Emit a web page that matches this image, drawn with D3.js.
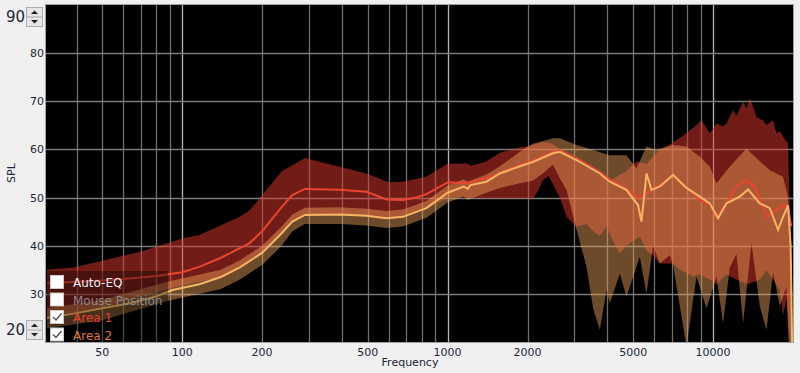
<!DOCTYPE html>
<html>
<head>
<meta charset="utf-8">
<script src="https://cdn.jsdelivr.net/npm/d3@7"></script>
<style>
  body { margin: 0; background: #f0f0f0; }
  svg { display: block; font-family: "DejaVu Sans", sans-serif; }
</style>
</head>
<body>
<svg id="chart" width="800" height="373"></svg>
<script>
// tick labels
var xTicks = [50, 100, 200, 500, 1000, 2000, 5000, 10000];
var yTicks = [30, 40, 50, 60, 70, 80];
var legendItems = ["Auto-EQ", "Mouse Position", "Area 1", "Area 2"];
var legendChecked = [false, false, true, true];

// Area 1 (red) - [Hz, dB]
var area1Mean = [[31,32.2],[40,32.5],[50,32.8],[63,33.2],[80,33.7],[100,34.5],[116,35.6],[140,37.5],[165,39.5],[180,40.6],[200,43],[237,48],[260,50.5],[290,51.8],[392,51.6],[495,51.2],[588,49.6],[679,49.5],[760,50],[832,50.7],[1004,53.2],[1176,53],[1398,54],[1571,55.1],[1871,56.8],[2094,57.6],[2491,59.5],[2647,59.8],[3059,58.2],[3744,55.3],[4082,53.8],[4718,51.8],[5218,50],[5450,50.2],[5861,51.6],[6300,52.6],[7069,54.7],[7940,52],[8912,49.5],[9718,48.5],[10299,46],[11232,48.8],[12247,52.3],[13360,53.6],[14358,52.3],[15427,48.1],[16000,46],[17330,47.4],[18347,48.4],[19160,48],[19700,44]];
var area1Hi = [[31,35],[39,35.5],[69,38.7],[100,41.5],[116,42.2],[165,46],[180,47.4],[237,55.4],[290,58.2],[392,56.4],[495,55],[600,53.2],[680,53.3],[830,54.3],[1000,57],[1180,57.1],[1230,56.6],[1400,57.5],[1573,59.3],[1871,60.4],[2094,60.9],[2284,61.6],[2491,61.2],[2800,59],[3059,57.5],[3532,55.5],[4082,53.5],[4718,55.5],[5147,57.5],[5612,57],[6300,60],[6870,61],[7940,63.3],[8170,64],[8660,65],[9044,66.1],[9443,64.5],[9718,63.3],[10299,65.4],[10906,64.8],[11232,65.4],[11891,68.2],[12247,67],[12972,69.9],[13360,68.5],[13747,70.6],[14358,68],[14571,66.7],[15427,66],[15889,65.1],[16827,66.1],[17330,63.3],[17833,63.8],[18898,61.6],[19160,61.3],[19500,45],[19900,30]];
var area1Lo = [[31,25],[50,27],[88,31],[140,33.5],[165,35.5],[200,38.5],[237,42.6],[260,45],[290,46.4],[392,46.5],[495,46.2],[588,45.7],[679,46],[832,47.8],[1000,50],[1176,50],[1400,49.8],[1871,49.8],[2094,49.8],[2200,51.5],[2284,53.6],[2400,54.5],[2647,50],[2804,46],[3059,44],[3337,44.5],[3532,43],[3744,42],[3967,44],[4201,41],[4453,38.4],[4718,40],[4857,40.5],[5296,41.9],[5612,39],[5943,38],[6300,36.3],[7069,36.3],[7500,35],[8409,33.6],[8912,34],[9718,33],[10299,32],[11232,34],[12247,33],[13546,32],[14993,33],[15889,34.9],[16827,33],[17833,30.8],[18347,25.5],[18898,29],[19500,20],[19900,15]];

// Area 2 (orange) - [Hz, dB]
var area2Mean = [[31,25],[40,26],[50,27],[63,28],[80,29.5],[92,30.8],[116,32],[140,33.5],[165,35.5],[200,38.5],[237,42.6],[260,45],[290,46.4],[392,46.5],[495,46.2],[588,45.7],[679,46],[832,47.8],[1000,51],[1150,52.3],[1190,51.8],[1220,52.6],[1400,53.3],[1573,55],[1871,56.5],[2094,57.4],[2491,59.2],[2647,59.5],[3059,57.8],[3744,55],[4082,53.3],[4718,51.6],[5218,48.4],[5375,45],[5612,55],[5861,51.6],[6300,52.3],[7069,54.7],[7940,52],[8912,50.2],[9718,48.8],[10443,45.7],[11232,48.8],[12605,50.2],[13546,51.7],[14993,48.8],[16353,47.8],[17572,43.3],[18347,46],[19160,48.4],[19600,40],[19900,15]];
var area2Hi = [[31,27],[50,28.8],[88,32.5],[140,35],[165,37],[200,40],[237,44],[260,46.5],[290,47.9],[392,48],[495,47.7],[588,47.2],[679,47.5],[832,49.3],[1000,52.5],[1150,53.8],[1190,53.3],[1400,54.8],[1573,56.5],[1871,59.5],[2094,61.2],[2491,62.3],[2647,62.3],[3059,60.9],[3532,59.9],[4082,58.8],[4718,58.8],[5147,56.1],[5612,60.6],[6121,59.9],[7069,60.9],[7940,60.6],[8912,58.5],[9718,56.4],[10299,53],[11558,56.4],[13360,60.2],[14358,58.5],[16353,55.7],[18347,54.3],[19160,50],[19700,35],[19950,20]];
var area2Lo = [[31,22.8],[50,24.5],[88,28.5],[140,31],[165,33],[200,36],[237,40],[260,43],[290,44.5],[392,44.5],[495,44.2],[588,43.7],[679,44],[832,45.8],[1000,49],[1150,50.2],[1190,49.5],[1400,51],[1573,52],[1871,53],[2094,53.5],[2284,55],[2491,56.8],[2647,54],[2804,51.6],[3059,43.3],[3337,35.6],[3532,27],[3744,22.5],[3967,30.8],[4082,28],[4201,30],[4453,34.2],[4718,29.4],[5296,37.7],[5612,30],[5943,40],[6300,36.3],[6870,38],[7069,36],[7940,19.1],[8660,33.6],[9443,27],[10299,33.6],[10906,23.9],[11558,35.5],[12247,38.3],[12972,23.9],[13951,40.5],[14993,27.5],[15889,22.5],[16827,34.5],[17833,27.5],[18898,31.5],[19400,15]];

var svg = d3.select("#chart");
var plotL = 46, plotR = 793, plotT = 5, plotB = 342;

var x = d3.scaleLog().domain([30.7, 20000]).range([plotL, plotR]);
var y = d3.scaleLinear().domain([20, 90]).range([plotB, plotT]);

svg.append("defs").append("clipPath").attr("id", "plotClip")
	.append("rect").attr("x", plotL).attr("y", plotT).attr("width", plotR - plotL).attr("height", plotB - plotT);

// plot background
svg.append("rect").attr("x", plotL).attr("y", plotT).attr("width", plotR - plotL).attr("height", plotB - plotT)
	.attr("fill", "#000");

// grid - vertical lines every 1-2-3..9 of each decade
var gridFreqs = [];
[10, 100, 1000, 10000].forEach(function(d) {
	for (var k = 1; k < 10; k++) {
		var f = d * k;
		if (f > 31 && f < 20000) gridFreqs.push(f);
	}
});
var grid = svg.append("g").attr("clip-path", "url(#plotClip)");
grid.selectAll("line.v").data(gridFreqs).enter().append("line")
	.attr("x1", function(d) { return Math.round(x(d)) + 0.5; })
	.attr("x2", function(d) { return Math.round(x(d)) + 0.5; })
	.attr("y1", plotT).attr("y2", plotB)
	.attr("stroke", function(d) { return [100, 1000, 10000].indexOf(d) >= 0 ? "#b4b4b4" : "#6e6e6e"; })
	.attr("stroke-width", 1.3);
grid.selectAll("line.h").data(yTicks).enter().append("line")
	.attr("x1", plotL).attr("x2", plotR)
	.attr("y1", function(d) { return Math.round(y(d)) + 0.5; })
	.attr("y2", function(d) { return Math.round(y(d)) + 0.5; })
	.attr("stroke", "#7a7a7a").attr("stroke-width", 1.3);

// bands and lines
var line = d3.line().x(function(d) { return x(d[0]); }).y(function(d) { return y(d[1]); });
function band(hi, lo) {
	return line(hi.concat(lo.slice().reverse())) + "Z";
}
var plot = svg.append("g").attr("clip-path", "url(#plotClip)");
plot.append("path").attr("d", band(area1Hi, area1Lo)).attr("fill", "rgb(225,55,45)").attr("fill-opacity", 0.5);
plot.append("path").attr("d", band(area2Hi, area2Lo)).attr("fill", "rgb(242,165,90)").attr("fill-opacity", 0.45);
plot.append("path").attr("d", line(area1Mean)).attr("fill", "none").attr("stroke", "#ea4530").attr("stroke-width", 2);
plot.append("path").attr("d", line(area2Mean)).attr("fill", "none").attr("stroke", "#f6b565").attr("stroke-width", 2);

// plot border
svg.append("rect").attr("x", plotL - 0.5).attr("y", plotT - 0.5).attr("width", plotR - plotL + 1).attr("height", plotB - plotT + 1)
	.attr("fill", "none").attr("stroke", "#a0a0a0");

// x axis labels
svg.append("g").selectAll("text").data(xTicks).enter().append("text")
	.attr("x", function(d) { return x(d); }).attr("y", 356)
	.attr("text-anchor", "middle").attr("font-size", 11).attr("fill", "#1c2638")
	.text(function(d) { return d; });
svg.append("text").attr("x", 410).attr("y", 366).attr("text-anchor", "middle")
	.attr("font-size", 11).attr("fill", "#1c2638").text("Frequency");

// y axis labels
svg.append("g").selectAll("text").data(yTicks).enter().append("text")
	.attr("x", 44).attr("y", function(d) { return y(d) + 4; })
	.attr("text-anchor", "end").attr("font-size", 11).attr("fill", "#1c2638")
	.text(function(d) { return d; });
svg.append("text").attr("transform", "translate(15,173) rotate(-90)").attr("text-anchor", "middle")
	.attr("font-size", 11).attr("fill", "#1c2638").text("SPL");

// min/max spinners
function spinner(value, yTop) {
	var g = svg.append("g");
	g.append("text").attr("x", 25).attr("y", yTop + 15).attr("text-anchor", "end")
		.attr("font-size", 15).attr("fill", "#1c2638").text(value);
	g.append("rect").attr("x", 26.5).attr("y", yTop + 0.5).attr("width", 16).attr("height", 19)
		.attr("fill", "#e6e6e6").attr("stroke", "#adadad");
	g.append("line").attr("x1", 27).attr("x2", 42).attr("y1", yTop + 10).attr("y2", yTop + 10).attr("stroke", "#adadad");
	g.append("path").attr("d", "M31," + (yTop + 7) + "L38," + (yTop + 7) + "L34.5," + (yTop + 3.5) + "Z").attr("fill", "#222");
	g.append("path").attr("d", "M31," + (yTop + 13) + "L38," + (yTop + 13) + "L34.5," + (yTop + 16.5) + "Z").attr("fill", "#222");
}
spinner(90, 7);
spinner(20, 320);

// legend
var legend = svg.append("g");
legend.append("rect").attr("x", 47).attr("y", 271).attr("width", 121).attr("height", 71)
	.attr("fill", "#000").attr("fill-opacity", 0.35);
var legendColors = ["#eef0f6", "#8a8a8a", "#e8402e", "#e07a30"];
legendItems.forEach(function(name, i) {
	var cy = 282 + i * 17.5;
	legend.append("rect").attr("x", 50.5).attr("y", cy - 6.5).attr("width", 13).attr("height", 13)
		.attr("fill", "#fff").attr("stroke", "#c8c8c8");
	if (legendChecked[i]) {
		legend.append("path").attr("d", "M53," + (cy + 0) + "L56," + (cy + 3) + "L61.5," + (cy - 3.5))
			.attr("fill", "none").attr("stroke", "#555").attr("stroke-width", 1.5);
	}
	legend.append("text").attr("x", 73).attr("y", cy + 5).attr("font-size", 12)
		.attr("fill", legendColors[i]).text(name);
});
</script>
</body>
</html>
